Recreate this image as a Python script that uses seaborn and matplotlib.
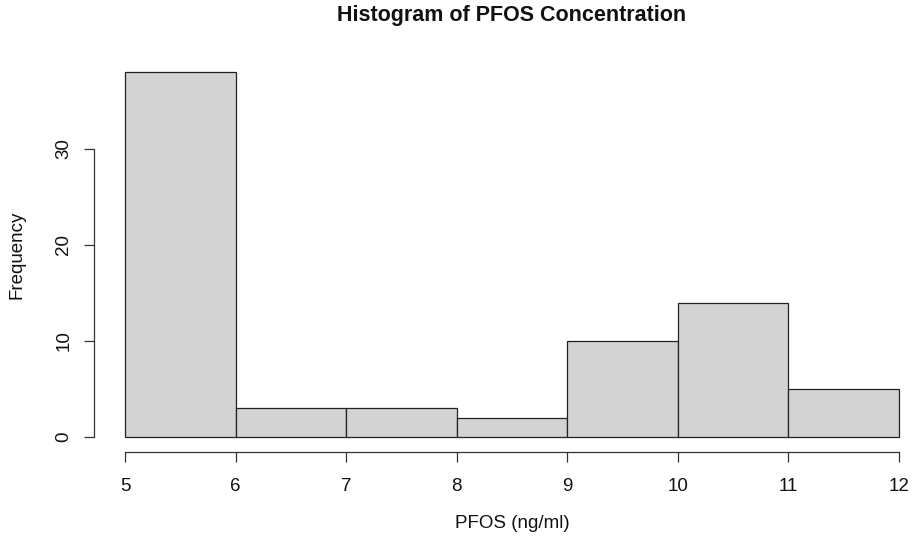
import numpy as np
import pandas as pd
import matplotlib
matplotlib.use("Agg")
import matplotlib.pyplot as plt
import seaborn as sns

# Data
bin_edges = [5, 6, 7, 8, 9, 10, 11, 12]
counts = [38, 3, 3, 2, 10, 14, 5]
x_ticks = [5, 6, 7, 8, 9, 10, 11, 12]
y_ticks = [0, 10, 20, 30]
title = "Histogram of PFOS Concentration"
x_label = "PFOS (ng/ml)"
y_label = "Frequency"

centers = [(a + b) / 2 for a, b in zip(bin_edges[:-1], bin_edges[1:])]
df = pd.DataFrame({"pfos": centers, "count": counts})

sns.set_style("white")
plt.rcParams["font.family"] = ["Liberation Sans", "DejaVu Sans"]

W, H = 914, 543
fig = plt.figure(figsize=(W / 100, H / 100), dpi=100)
left_px, right_px, top_px, bot_px = 94, 930, 57.6, 451.6
ax = fig.add_axes([left_px / W, (H - bot_px) / H, (right_px - left_px) / W, (bot_px - top_px) / H])

sns.histplot(data=df, x="pfos", weights="count", bins=bin_edges, ax=ax,
             color="#D3D3D3", edgecolor="#222222", linewidth=0.9, alpha=1.0)

xr = bin_edges[-1] - bin_edges[0]
ax.set_xlim(bin_edges[0] - 0.04 * xr, bin_edges[-1] + 0.04 * xr)
ymax = max(counts)
ax.set_ylim(-0.04 * ymax, ymax * 1.04)

ax.set_xticks(x_ticks)
ax.set_yticks(y_ticks)
ax.set_yticklabels([str(v) for v in y_ticks], rotation=90, va="center")

for s in ["top", "right"]:
    ax.spines[s].set_visible(False)
for s in ["left", "bottom"]:
    ax.spines[s].set_visible(True)
    ax.spines[s].set_color("#333333")
    ax.spines[s].set_linewidth(0.9)
ax.spines["left"].set_bounds(y_ticks[0], y_ticks[-1])
ax.spines["bottom"].set_bounds(x_ticks[0], x_ticks[-1])

ax.tick_params(axis="both", direction="out", length=7.5, width=0.9, color="#333333",
               labelsize=13.5, labelcolor="#111111")
ax.tick_params(axis="x", pad=11.5, bottom=True)
ax.tick_params(axis="y", pad=8, left=True)

ax.set_xlabel(x_label, fontsize=13.5, labelpad=0, color="#111111")
ax.set_ylabel(y_label, fontsize=13.5, labelpad=0, color="#111111")
ax.xaxis.set_label_coords(0.5, -(524 - bot_px) / (bot_px - top_px), transform=ax.transAxes)
ax.yaxis.set_label_coords(-(left_px - 17) / (right_px - left_px), 0.5, transform=ax.transAxes)
ax.xaxis.label.set_va("center")
ax.yaxis.label.set_va("center")

fig.text(512 / W, 1 - 16 / H, title, ha="center", va="center",
         fontsize=15.5, fontweight="bold", color="#111111")

fig.savefig("out.png", dpi=100, facecolor="white")
